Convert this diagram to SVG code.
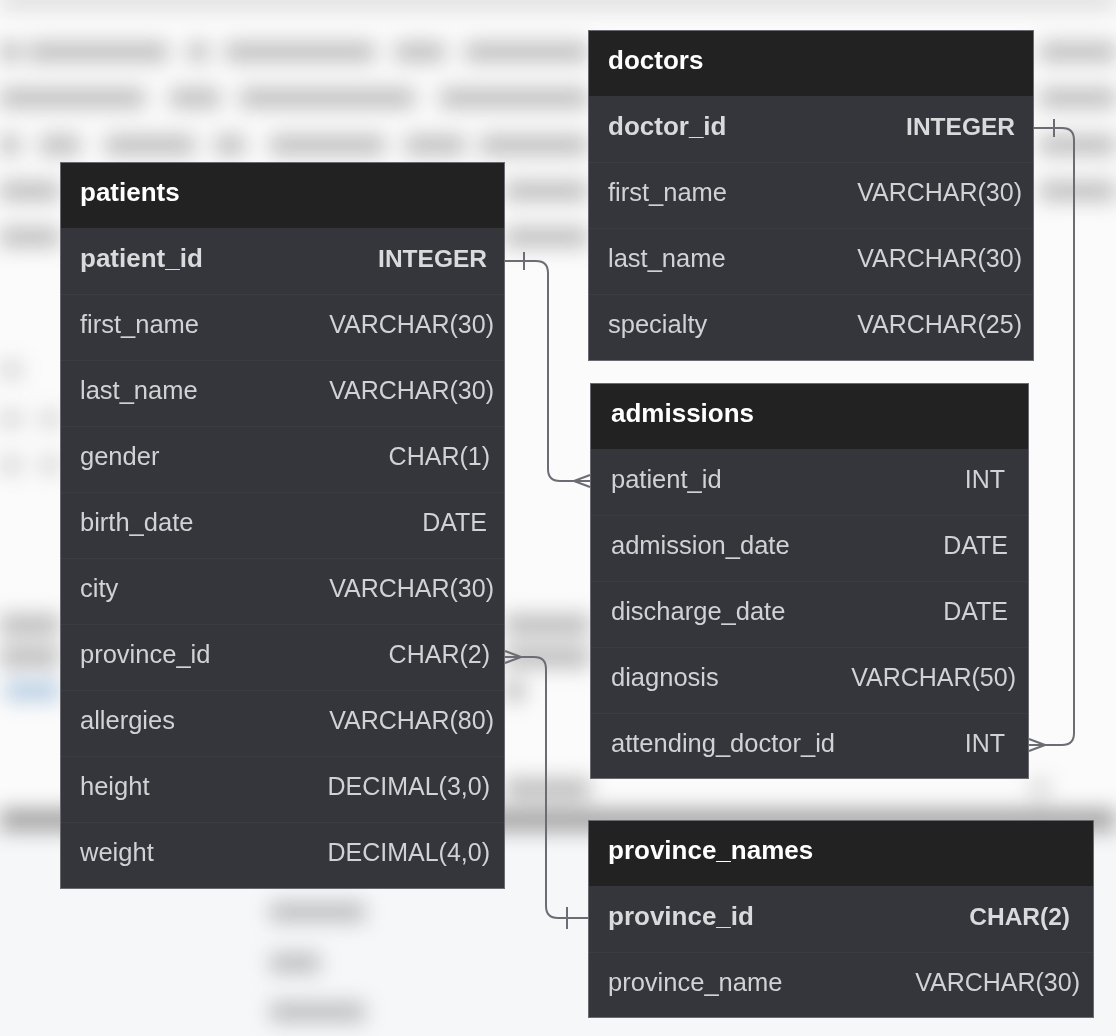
<svg xmlns="http://www.w3.org/2000/svg" width="1116" height="1036" viewBox="0 0 1116 1036">
<defs>
<filter id="blur" filterUnits="userSpaceOnUse" x="-50" y="-50" width="1216" height="1136"><feGaussianBlur stdDeviation="10"/></filter>
<style>
.hdr{fill:#222223}
.body{fill:#35363c}
.frame{fill:none;stroke:#6a6a70;stroke-width:1}
.sep{stroke:#3c3d43;stroke-width:1}
text{font-family:"Liberation Sans",Arial,sans-serif}
.title{font-size:26px;font-weight:bold;fill:#ffffff}
.name{font-size:25.5px;fill:#d2d2d4}
.pkn{font-size:26px;font-weight:bold;fill:#dadadc}
.type{font-size:25px;fill:#d2d2d4;text-anchor:end}
.pkt{font-size:24.5px;font-weight:bold;fill:#dadadc;text-anchor:end}
.conn{fill:none;stroke:#6c6c74;stroke-width:2}
.bg{fill:#b0b0b0}
</style>
</defs>
<g id="background">
<rect x="0" y="0" width="1116" height="1036" fill="#fbfbfb"/>
<rect x="0" y="830" width="1116" height="206" fill="#f5f7f9"/>
<g filter="url(#blur)" opacity="0.8">
<rect x="0" y="-10" width="1116" height="20" fill="#d8d8d8"/>
<rect class="bg" x="0" y="42" width="20" height="20"/>
<rect class="bg" x="28" y="42" width="140" height="20"/>
<rect class="bg" x="188" y="42" width="20" height="20"/>
<rect class="bg" x="225" y="42" width="150" height="20"/>
<rect class="bg" x="395" y="42" width="50" height="20"/>
<rect class="bg" x="465" y="42" width="123" height="20"/>
<rect class="bg" x="1040" y="42" width="76" height="20"/>
<rect class="bg" x="0" y="88" width="145" height="20"/>
<rect class="bg" x="170" y="88" width="50" height="20"/>
<rect class="bg" x="240" y="88" width="175" height="20"/>
<rect class="bg" x="440" y="88" width="148" height="20"/>
<rect class="bg" x="1040" y="88" width="76" height="20"/>
<rect class="bg" x="0" y="135" width="20" height="20"/>
<rect class="bg" x="40" y="135" width="40" height="20"/>
<rect class="bg" x="105" y="135" width="90" height="20"/>
<rect class="bg" x="215" y="135" width="30" height="20"/>
<rect class="bg" x="270" y="135" width="115" height="20"/>
<rect class="bg" x="405" y="135" width="60" height="20"/>
<rect class="bg" x="480" y="135" width="108" height="20"/>
<rect class="bg" x="1040" y="135" width="76" height="20"/>
<rect class="bg" x="0" y="181" width="60" height="20"/>
<rect class="bg" x="505" y="181" width="83" height="20"/>
<rect class="bg" x="1040" y="181" width="76" height="20"/>
<rect class="bg" x="0" y="227" width="60" height="20"/>
<rect class="bg" x="505" y="227" width="83" height="20"/>
<rect class="bg" x="0" y="361" width="22" height="18" opacity="0.6"/>
<rect class="bg" x="0" y="410" width="22" height="18" opacity="0.6"/>
<rect class="bg" x="40" y="410" width="20" height="18" opacity="0.6"/>
<rect class="bg" x="0" y="456" width="22" height="18" opacity="0.6"/>
<rect class="bg" x="40" y="456" width="20" height="18" opacity="0.6"/>
<rect class="bg" x="0" y="614" width="60" height="22"/>
<rect class="bg" x="505" y="614" width="85" height="22"/>
<rect class="bg" x="0" y="646" width="60" height="22"/>
<rect class="bg" x="505" y="646" width="85" height="22"/>
<rect x="5" y="681" width="55" height="20" fill="#a8c4de"/>
<rect class="bg" x="505" y="681" width="20" height="20"/>
<rect class="bg" x="505" y="778" width="85" height="22"/>
<rect class="bg" x="1030" y="778" width="20" height="22" opacity="0.5"/>
<rect x="0" y="809" width="1116" height="22" fill="#8c8c8c"/>
<rect class="bg" x="270" y="902" width="95" height="20"/>
<rect class="bg" x="270" y="953" width="50" height="20"/>
<rect class="bg" x="270" y="1002" width="95" height="20"/>
</g>
</g>
<g id="connectors">
<path class="conn" d="M505,261 H536 Q548,261 548,273 V469 Q548,481 560,481 H590"/>
<path class="conn" d="M524,252 V270 M574,481 L590,475 M574,481 L590,487"/>
<path class="conn" d="M505,657 H534 Q546,657 546,669 V906 Q546,918 558,918 H588"/>
<path class="conn" d="M521,657 L505,651 M521,657 L505,663 M567,907 V929"/>
<path class="conn" d="M1034,128 H1062 Q1074,128 1074,140 V733 Q1074,745 1062,745 H1029"/>
<path class="conn" d="M1054,119 V137 M1045,745 L1029,739 M1045,745 L1029,751"/>
</g>
<g id="patients">
<rect class="body" x="60" y="162" width="445" height="727"/>
<rect class="hdr" x="60" y="162" width="445" height="66"/>
<path class="sep" d="M60,294.5 H505 M60,360.5 H505 M60,426.5 H505 M60,492.5 H505 M60,558.5 H505 M60,624.5 H505 M60,690.5 H505 M60,756.5 H505 M60,822.5 H505"/>
<rect class="frame" x="60.5" y="162.5" width="444" height="726"/>
<text class="title" x="80" y="201">patients</text>
<text class="pkn" x="80" y="267">patient_id</text><text class="pkt" x="487" y="267">INTEGER</text>
<text class="name" x="80" y="333">first_name</text><text class="type" x="494" y="333">VARCHAR(30)</text>
<text class="name" x="80" y="399">last_name</text><text class="type" x="494" y="399">VARCHAR(30)</text>
<text class="name" x="80" y="465">gender</text><text class="type" x="490" y="465">CHAR(1)</text>
<text class="name" x="80" y="531">birth_date</text><text class="type" x="487" y="531">DATE</text>
<text class="name" x="80" y="597">city</text><text class="type" x="494" y="597">VARCHAR(30)</text>
<text class="name" x="80" y="663">province_id</text><text class="type" x="490" y="663">CHAR(2)</text>
<text class="name" x="80" y="729">allergies</text><text class="type" x="494" y="729">VARCHAR(80)</text>
<text class="name" x="80" y="795">height</text><text class="type" x="490" y="795">DECIMAL(3,0)</text>
<text class="name" x="80" y="861">weight</text><text class="type" x="490" y="861">DECIMAL(4,0)</text>
</g>
<g id="doctors">
<rect class="body" x="588" y="30" width="446" height="331"/>
<rect class="hdr" x="588" y="30" width="446" height="66"/>
<path class="sep" d="M588,162.5 H1034 M588,228.5 H1034 M588,294.5 H1034"/>
<rect class="frame" x="588.5" y="30.5" width="445" height="330"/>
<text class="title" x="608" y="69">doctors</text>
<text class="pkn" x="608" y="135">doctor_id</text><text class="pkt" x="1015" y="135">INTEGER</text>
<text class="name" x="608" y="201">first_name</text><text class="type" x="1022" y="201">VARCHAR(30)</text>
<text class="name" x="608" y="267">last_name</text><text class="type" x="1022" y="267">VARCHAR(30)</text>
<text class="name" x="608" y="333">specialty</text><text class="type" x="1022" y="333">VARCHAR(25)</text>
</g>
<g id="admissions">
<rect class="body" x="590" y="383" width="439" height="396"/>
<rect class="hdr" x="590" y="383" width="439" height="66"/>
<path class="sep" d="M590,515.5 H1029 M590,581.5 H1029 M590,647.5 H1029 M590,713.5 H1029"/>
<rect class="frame" x="590.5" y="383.5" width="438" height="395"/>
<text class="title" x="611" y="422">admissions</text>
<text class="name" x="611" y="488">patient_id</text><text class="type" x="1005" y="488">INT</text>
<text class="name" x="611" y="554">admission_date</text><text class="type" x="1008" y="554">DATE</text>
<text class="name" x="611" y="620">discharge_date</text><text class="type" x="1008" y="620">DATE</text>
<text class="name" x="611" y="686">diagnosis</text><text class="type" x="1016" y="686">VARCHAR(50)</text>
<text class="name" x="611" y="752">attending_doctor_id</text><text class="type" x="1005" y="752">INT</text>
</g>
<g id="province_names">
<rect class="body" x="588" y="820" width="506" height="198"/>
<rect class="hdr" x="588" y="820" width="506" height="66"/>
<path class="sep" d="M588,952.5 H1094"/>
<rect class="frame" x="588.5" y="820.5" width="505" height="197"/>
<text class="title" x="608" y="859">province_names</text>
<text class="pkn" x="608" y="925">province_id</text><text class="pkt" x="1070" y="925">CHAR(2)</text>
<text class="name" x="608" y="991">province_name</text><text class="type" x="1080" y="991">VARCHAR(30)</text>
</g>
</svg>
